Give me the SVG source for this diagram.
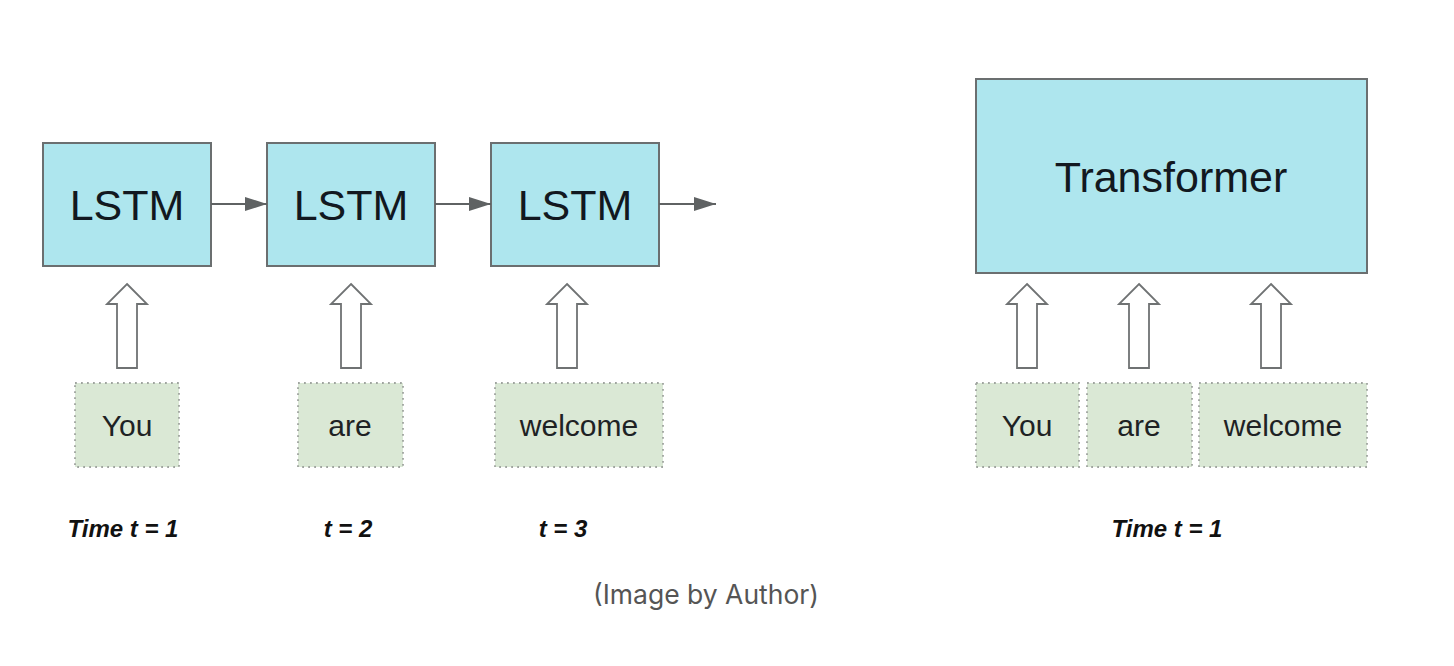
<svg xmlns="http://www.w3.org/2000/svg" xmlns:xlink="http://www.w3.org/1999/xlink" width="1454" height="666" viewBox="0 0 1454 666">
<style>
.box{fill:#aee6ee;stroke:#6b6f70;stroke-width:2}
.word{fill:#dae8d5;stroke:#9fa49f;stroke-width:1.8;stroke-dasharray:1.8 4.2}
.big{font-family:"Liberation Sans",Arial,sans-serif;font-size:43px;fill:#121820;text-anchor:middle}
.wt{font-family:"Liberation Sans",Arial,sans-serif;font-size:30px;fill:#1e2224;text-anchor:middle}
.time{font-family:"Liberation Sans",Arial,sans-serif;font-size:24px;font-weight:bold;font-style:italic;fill:#111;text-anchor:middle}
.cap{font-family:"Inter","Liberation Sans",sans-serif;font-size:26.5px;fill:#555;text-anchor:middle}
.line{stroke:#5f6263;stroke-width:2;fill:none}
.hollow{fill:#fff;stroke:#6f7273;stroke-width:1.8;stroke-linejoin:miter}
</style>
<defs>
<marker id="ah" markerWidth="22" markerHeight="14" refX="22" refY="7" orient="auto" markerUnits="userSpaceOnUse">
<path d="M0,0 L22,7 L0,14 Z" fill="#5f6263"/>
</marker>
<path id="up" d="M0,0 L20,20 L10,20 L10,84 L-10,84 L-10,20 L-20,20 Z"/>
</defs>
<rect width="1454" height="666" fill="#fff"/>
<g id="lstm1"><rect class="box" x="43" y="143" width="168" height="123"/><text class="big" x="127" y="220">LSTM</text></g>
<g id="lstm2"><rect class="box" x="267" y="143" width="168" height="123"/><text class="big" x="351" y="220">LSTM</text></g>
<g id="lstm3"><rect class="box" x="491" y="143" width="168" height="123"/><text class="big" x="575" y="220">LSTM</text></g>
<g id="transformer"><rect class="box" x="976" y="79" width="391" height="194"/><text class="big" x="1171" y="192">Transformer</text></g>
<g id="w-you-1"><rect class="word" x="75" y="383" width="104" height="84"/><text class="wt" x="127" y="436">You</text></g>
<g id="w-are-1"><rect class="word" x="298" y="383" width="105" height="84"/><text class="wt" x="350" y="436">are</text></g>
<g id="w-welcome-1"><rect class="word" x="495" y="383" width="168" height="84"/><text class="wt" x="579" y="436">welcome</text></g>
<g id="w-you-2"><rect class="word" x="976" y="383" width="103" height="84"/><text class="wt" x="1027" y="436">You</text></g>
<g id="w-are-2"><rect class="word" x="1087" y="383" width="105" height="84"/><text class="wt" x="1139" y="436">are</text></g>
<g id="w-welcome-2"><rect class="word" x="1199" y="383" width="168" height="84"/><text class="wt" x="1283" y="436">welcome</text></g>
<g id="connectors">
<line class="line" x1="211" y1="204" x2="267" y2="204" marker-end="url(#ah)"/>
<line class="line" x1="435" y1="204" x2="491" y2="204" marker-end="url(#ah)"/>
<line class="line" x1="659" y1="204" x2="716" y2="204" marker-end="url(#ah)"/>
<use href="#up" xlink:href="#up" class="hollow" x="127" y="284"/>
<use href="#up" xlink:href="#up" class="hollow" x="351" y="284"/>
<use href="#up" xlink:href="#up" class="hollow" x="567" y="284"/>
<use href="#up" xlink:href="#up" class="hollow" x="1027" y="284"/>
<use href="#up" xlink:href="#up" class="hollow" x="1139" y="284"/>
<use href="#up" xlink:href="#up" class="hollow" x="1271" y="284"/>
</g>
<g id="labels">
<text class="time" x="123" y="537">Time t = 1</text>
<text class="time" x="348" y="537">t = 2</text>
<text class="time" x="563" y="537">t = 3</text>
<text class="time" x="1167" y="537">Time t = 1</text>
<text class="cap" x="706" y="604">(Image by Author)</text>
</g>
</svg>
